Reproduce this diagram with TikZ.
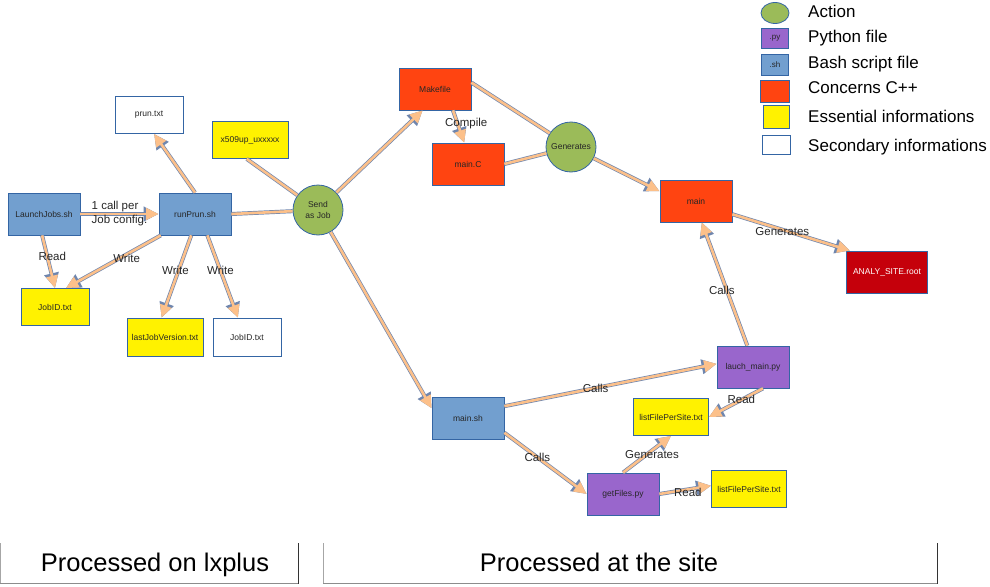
\documentclass[tikz,border=0pt]{standalone}
\usepackage{fontspec}
\setmainfont{Liberation Sans}
\usetikzlibrary{positioning,shapes,arrows.meta}
\definecolor{rim}{HTML}{3465A4}
\definecolor{shblue}{HTML}{729FCF}
\definecolor{pypurple}{HTML}{9966CC}
\definecolor{cpporange}{HTML}{FF4411}
\definecolor{rootred}{HTML}{C5000B}
\definecolor{actgreen}{HTML}{9BBB59}
\definecolor{peach}{HTML}{FCC08A}
\definecolor{arrowrim}{HTML}{6F86AE}
\tikzstyle{file}=[draw=rim,line width=0.8pt,rectangle,minimum width=72pt,minimum height=42pt,
  inner sep=1pt,text=black!85,font=\fontsize{8.5}{10}\selectfont]
\tikzstyle{sh}=[file,fill=shblue]
\tikzstyle{py}=[file,fill=pypurple]
\tikzstyle{cpp}=[file,fill=cpporange]
\tikzstyle{rootfile}=[file,fill=rootred,text=white,minimum width=81pt]
\tikzstyle{info}=[file,fill=yellow,minimum width=68pt,minimum height=37pt]
\tikzstyle{aux}=[file,fill=white,minimum width=68pt,minimum height=37pt]
\tikzstyle{action}=[draw=rim,line width=0.8pt,fill=actgreen,circle,minimum size=50pt,inner sep=0pt,
  align=center,text=black!85,font=\fontsize{8.5}{11}\selectfont]
\tikzstyle{flow}=[draw=peach,line width=2.6pt,-{Triangle[length=12.5pt,width=11.5pt]},
  preaction={draw=arrowrim,line width=4pt,-{Triangle[length=15pt,width=14pt]}}]
\tikzstyle{wire}=[draw=peach,line width=2.6pt,preaction={draw=arrowrim,line width=4pt}]
\tikzstyle{lbl}=[inner sep=0pt,text=black!85,font=\fontsize{11.5}{14}\selectfont]
\tikzstyle{legtxt}=[anchor=base west,inner sep=0pt,font=\fontsize{17}{20}\selectfont]
\tikzstyle{side}=[inner sep=0pt,anchor=base,font=\fontsize{25.5}{30}\selectfont]
\newcommand{\newFile}[4]{\node[#3](#1) at (#4) {#2};}
\newcommand{\newLink}[4]{\draw[flow] (#1) -- node[lbl,#4] {#3} (#2);}
\newcommand{\newWire}[2]{\draw[wire] (#1) -- (#2);}

\begin{document}
\begin{tikzpicture}[x=1pt,y=-1pt]
  \useasboundingbox (0,0) rectangle (990,586);
  % lxplus side
  \newFile{launch}{LaunchJobs.sh}{sh}{44,214}
  \newFile{runPrun}{runPrun.sh}{sh}{195,214}
  \newFile{prun}{prun.txt}{aux}{149,115}
  \newFile{proxy}{x509up\_uxxxxx}{info,minimum width=76pt}{250,140}
  \newFile{jobA}{JobID.txt}{info}{55,307}
  \newFile{lastJob}{lastJobVersion.txt}{info,minimum width=76pt,minimum height=38pt}{165,337}
  \newFile{jobB}{JobID.txt}{aux,minimum height=38pt}{247,337}
  \node[action] (send) at (318,210) {Send\\as Job};
  % site side
  \newFile{makefile}{Makefile}{cpp}{435,89}
  \newFile{mainC}{main.C}{cpp}{468,164}
  \node[action] (gen) at (571,147) {Generates};
  \newFile{main}{main}{cpp}{696,201}
  \newFile{root}{ANALY\_SITE.root}{rootfile}{887,272}
  \newFile{lauch}{lauch\_main.py}{py}{753,367}
  \newFile{mainsh}{main.sh}{sh}{468,418}
  \newFile{listA}{listFilePerSite.txt}{info,minimum width=75pt}{671,417}
  \newFile{getFiles}{getFiles.py}{py}{623,494}
  \newFile{listB}{listFilePerSite.txt}{info,minimum width=75pt}{749,489}

  \newWire{runPrun.east}{send}
  \newWire{proxy.-100}{send}
  \newWire{makefile.10}{gen}
  \newWire{mainC.east}{gen}
  \newLink{launch.east}{runPrun.west}{1 call per\\Job config.}{align=left}
  \newLink{launch.-95}{jobA.north}{Read}{pos=.4,xshift=5pt}
  \newLink{runPrun.-148}{jobA.60}{Write}{pos=.36,yshift=-4pt}
  \newLink{runPrun.-100}{lastJob.100}{Write}{pos=.43,xshift=-3pt}
  \newLink{runPrun.-60}{jobB.115}{Write}{pos=.43}
  \draw[flow] (runPrun.north) -- (prun.-75);
  \draw[flow] (send) -- (makefile.-120);
  \draw[flow] (send) -- (mainsh.165);
  \newLink{makefile.-50}{mainC.100}{Compile}{pos=.42,xshift=8.5pt}
  \draw[flow] (gen) -- (main.165);
  \newLink{main.-20}{root.150}{Generates}{pos=.45,xshift=-3pt,yshift=-1pt}
  \newLink{lauch.105}{main.-75}{Calls}{pos=.45,xshift=-5pt}
  \newLink{mainsh.18}{lauch.175}{Calls}{pos=.43}
  \newLink{mainsh.-22}{getFiles.west}{Calls}{pos=.4}
  \newLink{lauch.-65}{listA.east}{Read}{pos=.4}
  \newLink{getFiles.north}{listA.south}{Generates}{pos=.5,xshift=5pt}
  \newLink{getFiles.east}{listB.175}{Read}{pos=.55,yshift=-3pt}

  % legend
  \node[action,ellipse,minimum width=28pt,minimum height=21pt] (legAct) at (775,13) {};
  \node[py,minimum width=27pt,minimum height=20pt,font=\fontsize{8}{9}\selectfont] (legPy) at (775,38) {.py};
  \node[sh,minimum width=27pt,minimum height=21pt,font=\fontsize{8}{9}\selectfont] (legSh) at (775,65) {.sh};
  \node[cpp,minimum width=29pt,minimum height=22pt] (legCpp) at (775,91) {};
  \node[info,minimum width=26pt,minimum height=23pt] (legInfo) at (776,117) {};
  \node[aux,minimum width=28pt,minimum height=19pt] (legAux) at (776,145) {};
  \node[legtxt] (txtAct) at (808,18) {Action};
  \node[legtxt] (txtPy) at (808,43) {Python file};
  \node[legtxt] (txtSh) at (808,68) {Bash script file};
  \node[legtxt] (txtCpp) at (808,93) {Concerns C++};
  \node[legtxt] (txtInfo) at (808,122) {Essential informations};
  \node[legtxt] (txtAux) at (808,151) {Secondary informations};

  % where things run
  \node[side] (lxplus) at (155,571) {Processed on lxplus};
  \node[side] (site) at (599,571) {Processed at the site};
  \draw[black!35,line width=0.8pt] (0.5,543) -- (0.5,583);
  \draw[black!45,line width=1.6pt] (0,583.5) -- (298,583.5);
  \draw[black!80,line width=0.8pt] (298,543) -- (298,584);
  \draw[black!35,line width=0.8pt] (323.5,543) -- (323.5,583);
  \draw[black!45,line width=1.6pt] (323,583.5) -- (937,583.5);
  \draw[black!80,line width=0.8pt] (937,543) -- (937,584);
\end{tikzpicture}
\end{document}
